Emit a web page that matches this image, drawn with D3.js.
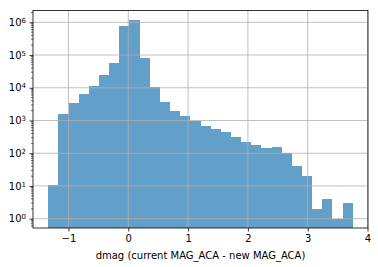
<!DOCTYPE html>
<html>
<head>
<meta charset="utf-8">
<script src="https://cdn.jsdelivr.net/npm/d3@7"></script>
<style>
  body { margin: 0; background: #fff; }
  svg { display: block; font-family: "DejaVu Sans", sans-serif; }
</style>
</head>
<body>
<div id="chart"></div>
<script>
// Size of the page
const w = 378;
const h = 267;
// Plot area edges
const plotLeft = 33, plotRight = 368, plotTop = 10.5, plotBottom = 228;

// Histogram: first/last bin edge and the counts per bin (30 bins)
const binLo = -1.338;
const binHi = 3.753;
const counts = [11, 1550, 3430, 6450, 11300, 24500, 58500, 772000, 1180000, 81000,
                10300, 3680, 1950, 1380, 990, 680, 550, 445, 315, 220,
                178, 145, 155, 100, 41, 20, 2, 4, 1, 3];
// Tick values
const xTicks = [-1, 0, 1, 2, 3, 4];
const yExponents = [0, 1, 2, 3, 4, 5, 6];
const xLabel = "dmag (current MAG_ACA - new MAG_ACA)";

// bin edges, same way a histogram splits its range
const edges = d3.range(counts.length + 1).map(i => binLo + i * (binHi - binLo) / counts.length);
const bins = counts.map((c, i) => ({x0: edges[i], x1: edges[i + 1], count: c}));

const svg = d3.select("#chart").append("svg")
  .attr("width", w)
  .attr("height", h);

const xScale = d3.scaleLinear()
  .domain([-1.593, 4.008])
  .range([plotLeft, plotRight]);

const yScale = d3.scaleLog()
  .domain([Math.pow(10, -0.284), Math.pow(10, 6.361)])
  .range([plotBottom, plotTop]);

// bars first, grid goes on top of them
svg.append("g")
  .selectAll("rect")
  .data(bins)
  .enter()
  .append("rect")
  .attr("x", d => xScale(d.x0))
  .attr("width", d => xScale(d.x1) - xScale(d.x0))
  .attr("y", d => yScale(d.count))
  .attr("height", d => plotBottom - yScale(d.count))
  .attr("fill", "#1f77b4")
  .attr("fill-opacity", 0.7)
  .attr("shape-rendering", "crispEdges");

// grid lines
const grid = svg.append("g").attr("stroke", "#b0b0b0").attr("stroke-width", 0.8);
grid.selectAll("line.gx")
  .data(xTicks)
  .enter()
  .append("line")
  .attr("class", "gx")
  .attr("x1", d => xScale(d)).attr("x2", d => xScale(d))
  .attr("y1", plotTop).attr("y2", plotBottom);
grid.selectAll("line.gy")
  .data(yExponents)
  .enter()
  .append("line")
  .attr("class", "gy")
  .attr("x1", plotLeft).attr("x2", plotRight)
  .attr("y1", d => yScale(Math.pow(10, d))).attr("y2", d => yScale(Math.pow(10, d)));

// x axis
const xAxis = svg.append("g")
  .attr("transform", `translate(0, ${plotBottom})`)
  .call(d3.axisBottom(xScale)
    .tickValues(xTicks)
    .tickSizeInner(3.5)
    .tickSizeOuter(0)
    .tickPadding(3.5)
    .tickFormat(d => d < 0 ? "\u2212" + Math.abs(d) : d));
xAxis.select(".domain").remove();
xAxis.selectAll("line").attr("stroke", "#000").attr("stroke-width", 0.8);
xAxis.selectAll("text").attr("font-size", 10).attr("fill", "#000")
  .attr("font-family", "DejaVu Sans");

// y axis: minor ticks 2..9 per decade
const minor = [];
for (let e = -1; e <= 6; e++) {
  for (let m = 2; m <= 9; m++) {
    const v = m * Math.pow(10, e);
    const dom = yScale.domain();
    if (v >= dom[0] && v <= dom[1]) minor.push(v);
  }
}
svg.append("g")
  .attr("transform", `translate(${plotLeft}, 0)`)
  .selectAll("line")
  .data(minor)
  .enter()
  .append("line")
  .attr("x1", -2).attr("x2", 0)
  .attr("y1", d => yScale(d)).attr("y2", d => yScale(d))
  .attr("stroke", "#000").attr("stroke-width", 0.6);

const yAxis = svg.append("g")
  .attr("transform", `translate(${plotLeft}, 0)`)
  .call(d3.axisLeft(yScale)
    .tickValues(yExponents.map(e => Math.pow(10, e)))
    .tickSizeInner(3.5)
    .tickSizeOuter(0)
    .tickPadding(3.5)
    .tickFormat(""));
yAxis.select(".domain").remove();
yAxis.selectAll("line").attr("stroke", "#000").attr("stroke-width", 0.8);
// labels as 10 with superscript exponent
yAxis.selectAll(".tick").each(function(d, i) {
  const t = d3.select(this).select("text")
    .attr("font-size", 10)
    .attr("fill", "#000")
    .attr("font-family", "DejaVu Sans");
  t.text("");
  t.append("tspan").text("10");
  t.append("tspan").attr("font-size", 7).attr("dy", "-0.45em").text(yExponents[i]);
});

// frame
svg.append("rect")
  .attr("x", plotLeft).attr("y", plotTop)
  .attr("width", plotRight - plotLeft).attr("height", plotBottom - plotTop)
  .attr("fill", "none").attr("stroke", "#000").attr("stroke-width", 0.8);

svg.append("text")
  .attr("x", (plotLeft + plotRight) / 2)
  .attr("y", 259)
  .attr("text-anchor", "middle")
  .attr("font-size", 10)
  .attr("fill", "#000")
  .text(xLabel);
</script>
</body>
</html>
